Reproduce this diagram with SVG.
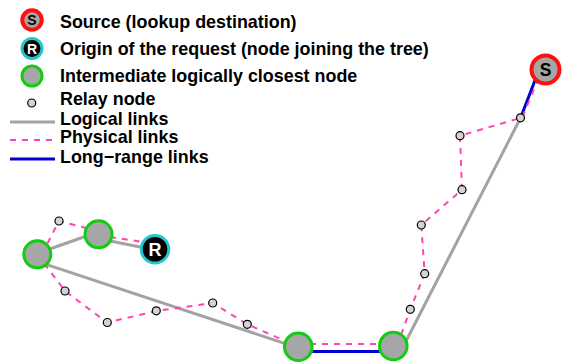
<svg xmlns="http://www.w3.org/2000/svg" width="574" height="363" viewBox="0 0 574 363">
<style>
.txt{font-family:"Liberation Sans",Arial,sans-serif;font-weight:bold;font-size:17.9px;fill:#000}
.lbl{font-family:"Liberation Sans",Arial,sans-serif;font-weight:bold;text-anchor:middle}
.logical{stroke:#a3a3a3;stroke-width:3;fill:none}
.phys{stroke:#ff44b4;stroke-width:2;stroke-dasharray:6,6;fill:none}
.long{stroke:#0000d0;stroke-width:3;fill:none}
.inter{fill:#a6a6a6;stroke:#11cc11;stroke-width:3}
.src{fill:#a6a6a6;stroke:#ff0f0f;stroke-width:4}
.orig{fill:#000;stroke:#22c8d0;stroke-width:3}
.relay{fill:#d3d3d3;stroke:#000;stroke-width:1.2}
</style>
<rect width="574" height="363" fill="#fff"/>
<g id="legend">
  <circle class="src" cx="32" cy="20" r="9.7" stroke-width="3.4"/>
  <text class="lbl" x="32" y="25" font-size="14" fill="#000">S</text>
  <circle class="orig" cx="32" cy="48.5" r="10"/>
  <text class="lbl" x="32" y="53.5" font-size="14" fill="#fff">R</text>
  <circle class="inter" cx="32" cy="76" r="10"/>
  <circle class="relay" cx="31.7" cy="103" r="4"/>
  <line class="logical" x1="10" y1="122" x2="55" y2="122"/>
  <line class="phys" x1="10" y1="140" x2="55" y2="140"/>
  <line class="long" x1="10" y1="159" x2="55" y2="159"/>
  <text class="txt" x="60" y="27.5">Source (lookup destination)</text>
  <text class="txt" x="60" y="54.5">Origin of the request (node joining the tree)</text>
  <text class="txt" x="60" y="82">Intermediate logically closest node</text>
  <text class="txt" x="60" y="105">Relay node</text>
  <text class="txt" x="60" y="125">Logical links</text>
  <text class="txt" x="60" y="143">Physical links</text>
  <text class="txt" x="60" y="163">Long−range links</text>
</g>
<g id="connectors">
  <line class="logical" x1="37" y1="253.5" x2="98" y2="232"/>
  <line class="logical" x1="98" y1="238.5" x2="155" y2="250"/>
  <line class="logical" x1="37" y1="261.3" x2="298" y2="347.8"/>
  <line class="logical" x1="403" y1="347" x2="520.5" y2="118"/>
  <line class="long" x1="298" y1="351.5" x2="393" y2="351.5"/>
  <line class="long" x1="520.5" y1="118" x2="539" y2="70"/>
  <polyline class="phys" points="42,254 59,221 98,231"/>
  <line class="phys" x1="98" y1="235.3" x2="155" y2="243.8"/>
  <polyline class="phys" points="37,254 65,291 107,322.5 156.5,311 212.7,303 247.3,324.3 298,346.5"/>
  <line class="phys" x1="298" y1="344" x2="393" y2="344"/>
  <polyline class="phys" points="397,346 410.3,309.3 424.7,273.7 421.3,225 462,189.7 460,135.7 520.3,118"/>
  <line class="phys" x1="522.5" y1="117" x2="542" y2="70"/>
</g>
<g id="relay1"><circle class="relay" cx="59" cy="221" r="4"/></g>
<g id="relay2"><circle class="relay" cx="65" cy="291" r="4"/></g>
<g id="relay3"><circle class="relay" cx="107.3" cy="322.5" r="4"/></g>
<g id="relay4"><circle class="relay" cx="156.3" cy="310.8" r="4"/></g>
<g id="relay5"><circle class="relay" cx="212.7" cy="303" r="4"/></g>
<g id="relay6"><circle class="relay" cx="247.3" cy="324.3" r="4"/></g>
<g id="relay7"><circle class="relay" cx="410.3" cy="309.3" r="4"/></g>
<g id="relay8"><circle class="relay" cx="424.7" cy="273.7" r="4"/></g>
<g id="relay9"><circle class="relay" cx="421.3" cy="225" r="4"/></g>
<g id="relay10"><circle class="relay" cx="462" cy="189.7" r="4"/></g>
<g id="relay11"><circle class="relay" cx="460" cy="135.7" r="4"/></g>
<g id="relay12"><circle class="relay" cx="520.5" cy="117.8" r="4"/></g>
<g id="nodeA"><circle class="inter" cx="37.3" cy="254.3" r="13.5"/></g>
<g id="nodeB"><circle class="inter" cx="98.5" cy="234.3" r="13.5"/></g>
<g id="nodeC"><circle class="inter" cx="298.3" cy="346.7" r="13.8"/></g>
<g id="nodeD"><circle class="inter" cx="393.3" cy="346" r="13.8"/></g>
<g id="nodeR">
  <circle class="orig" cx="155" cy="249.3" r="13.8"/>
  <text class="lbl" x="155" y="255.8" font-size="18" fill="#fff">R</text>
</g>
<g id="nodeS">
  <circle class="src" cx="545.5" cy="69.5" r="14"/>
  <text class="lbl" x="545.5" y="75.8" font-size="17.5" fill="#000">S</text>
</g>
</svg>
